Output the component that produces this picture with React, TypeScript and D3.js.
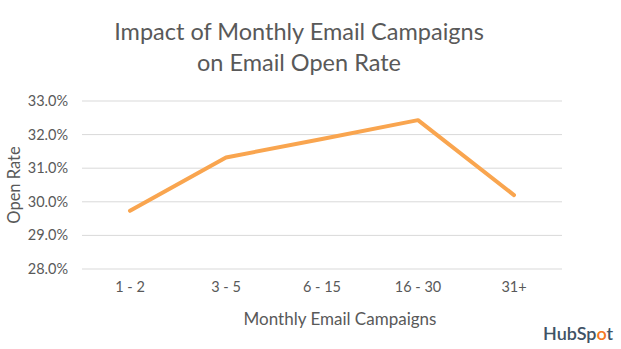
import React from "react";
import * as d3 from "d3";

const categories = ["1 - 2", "3 - 5", "6 - 15", "16 - 30", "31+"];
const openRates = [29.73, 31.32, 31.87, 32.43, 30.2];
const yTicks = [28, 29, 30, 31, 32, 33];

const W = 621;
const H = 349;
const M = { left: 82, right: 59, top: 101, bottom: 80 };

export default function App() {
  const x = d3
    .scaleBand<string>()
    .domain(categories)
    .range([M.left, W - M.right]);
  const y = d3.scaleLinear().domain([28, 33]).range([H - M.bottom, M.top]);
  const line = d3
    .line<number>()
    .x((_, i) => (x(categories[i]) as number) + x.bandwidth() / 2)
    .y((d) => y(d));
  const font = "Lato, 'Open Sans', sans-serif";
  const gray = "#595959";
  return (
    <svg
      width={W}
      height={H}
      style={{ position: "absolute", left: 0, top: 0, background: "#fff" }}
      fontFamily={font}
    >
      <text x={299} y={40} textAnchor="middle" fontSize={23.5} fill={gray}>
        Impact of Monthly Email Campaigns
      </text>
      <text x={299} y={71} textAnchor="middle" fontSize={23.5} fill={gray}>
        on Email Open Rate
      </text>
      {yTicks.map((t) => (
        <g key={t}>
          <line
            x1={M.left}
            x2={W - M.right}
            y1={y(t)}
            y2={y(t)}
            stroke="#d9d9d9"
            strokeWidth={1}
          />
          <text
            x={68}
            y={y(t)}
            dy="0.35em"
            textAnchor="end"
            fontSize={14.5}
            fill={gray}
          >
            {t.toFixed(1)}%
          </text>
        </g>
      ))}
      {categories.map((c) => (
        <text
          key={c}
          x={(x(c) as number) + x.bandwidth() / 2}
          y={292}
          textAnchor="middle"
          fontSize={14.5}
          fill={gray}
        >
          {c}
        </text>
      ))}
      <path
        d={line(openRates) || ""}
        fill="none"
        stroke="#f9a54f"
        strokeWidth={4}
        strokeLinejoin="round"
        strokeLinecap="round"
      />
      <text x={340} y={325} textAnchor="middle" fontSize={17} fill={gray}>
        Monthly Email Campaigns
      </text>
      <text
        transform={`translate(20, 185) rotate(-90)`}
        textAnchor="middle"
        fontSize={16.5}
        fill={gray}
      >
        Open Rate
      </text>
      <text x={543} y={340} fontSize={18} fill="#3f5366" fontWeight={600}>
        HubSp
        <tspan fill="#f57722">o</tspan>
        t
      </text>
    </svg>
  );
}
